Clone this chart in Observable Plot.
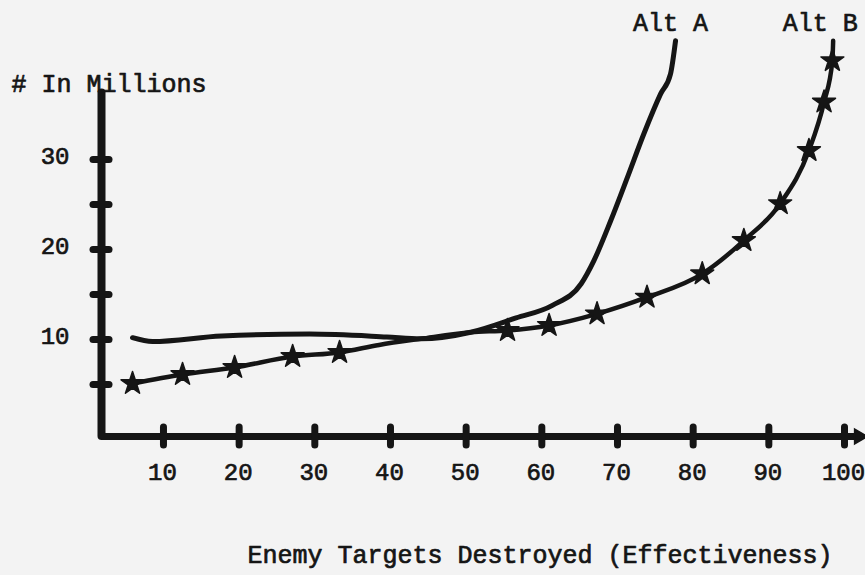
<!DOCTYPE html>
<html>
<head>
<meta charset="utf-8">
<script src="https://cdn.jsdelivr.net/npm/d3@7"></script>
<script src="https://cdn.jsdelivr.net/npm/@observablehq/plot@0.6"></script>
<style>
  html, body { margin: 0; padding: 0; background: #f3f3f3; }
  #chart svg { display: block; }
</style>
</head>
<body>
<div id="chart"></div>
<script>
// ---- data ----
const seriesNames = ["Alt A", "Alt B"];
const xTitle = "Enemy Targets Destroyed (Effectiveness)";
const yTitle = "# In Millions";

const xTicks = [10, 20, 30, 40, 50, 60, 70, 80, 90, 100];
const yTicks = [5, 10, 15, 20, 25, 30];
const yTickLabels = [10, 20, 30];

// Alt A: smooth curve, no markers
const altAX = [5.91, 8.55, 17.67, 29.3, 39.5, 44.0, 50.6, 56.6, 61.4, 65.2, 66.9, 69.1, 71.3, 73.5, 75.7, 77.0, 77.67];
const altAY = [10.2, 9.78, 10.39, 10.6, 10.28, 10.08, 10.81, 12.4, 13.8, 16.2, 18.8, 23.2, 28.0, 32.9, 37.3, 39.5, 43.2];

// Alt B: curve with star markers (1 = star drawn at that point)
const altBX = [5.91, 12.52, 19.4, 27.07, 33.27, 38.5, 44.0, 50.6, 55.47, 60.96, 67.3, 73.9, 81.2, 86.7, 91.5, 95.3, 97.3, 98.4, 98.5];
const altBY = [5.11, 6.11, 6.89, 8.11, 8.56, 9.4, 10.08, 10.81, 11.0, 11.56, 12.85, 14.7, 17.3, 21.0, 25.1, 31.0, 36.4, 41.0, 43.2];
const altBStar = [1, 1, 1, 1, 1, 0, 0, 0, 1, 1, 1, 1, 1, 1, 1, 1, 1, 1, 0];

// ---- build ----
const altA = altAX.map((x, i) => ({x, y: altAY[i]}));
const altB = altBX.map((x, i) => ({x, y: altBY[i], star: altBStar[i]}));

const X0 = 1.81, XMAX = 100, XEND = 101.9;
const Y0 = -0.78, YMAX = 37.9, YTOP = 37.4;
const FONT = "Liberation Mono";
const INK = "#151515";
const txt = {fontSize: 25, fontWeight: "normal", fontFamily: FONT, fill: INK, stroke: INK, strokeWidth: 0.7};

const chart = Plot.plot({
  width: 865,
  height: 575,
  marginLeft: 101,
  marginRight: 21,
  marginTop: 88,
  marginBottom: 139,
  x: {domain: [X0, XMAX], axis: null},
  y: {domain: [Y0, YMAX], axis: null},
  style: {background: "#f3f3f3", fontFamily: FONT, fontSize: "25px", color: INK},
  marks: [
    // axis lines
    Plot.ruleX([X0], {y1: Y0, y2: YTOP, stroke: INK, strokeWidth: 8, strokeLinecap: "round"}),
    Plot.ruleY([Y0], {x1: X0, x2: XEND, stroke: INK, strokeWidth: 7, strokeLinecap: "butt"}),
    Plot.dot([{x: XEND, y: Y0}], {x: "x", y: "y", symbol: "triangle", rotate: 90, r: 5.5, fill: INK, stroke: INK}),
    // tick blobs straddling the axes
    Plot.ruleY(yTicks, {y: d => d, x1: X0, x2: X0, insetLeft: -8, insetRight: -8, stroke: INK, strokeWidth: 7, strokeLinecap: "round"}),
    Plot.ruleX(xTicks, {x: d => d, y1: Y0, y2: Y0, insetTop: -9, insetBottom: -9, stroke: INK, strokeWidth: 7, strokeLinecap: "round"}),
    // tick labels
    Plot.text(xTicks, {x: d => d, y: Y0, text: d => String(d), dy: 36, dx: -1, ...txt, fontSize: 24, letterSpacing: "-1px"}),
    Plot.text(yTickLabels, {x: X0, y: d => d, text: d => String(d), dx: -32, dy: -3, textAnchor: "end", ...txt, fontSize: 24, letterSpacing: "-1px"}),
    // series
    Plot.line(altA, {x: "x", y: "y", curve: "monotone-x", stroke: INK, strokeWidth: 5, strokeLinecap: "round", strokeLinejoin: "round"}),
    Plot.line(altB, {x: "x", y: "y", curve: "monotone-x", stroke: INK, strokeWidth: 4.5, strokeLinecap: "round", strokeLinejoin: "round"}),
    Plot.dot(altB.filter(d => d.star), {x: "x", y: "y", symbol: "star", r: 7.2, fill: INK, stroke: INK, strokeWidth: 1.5, strokeLinejoin: "round"}),
    // series labels
    Plot.text([altA[altA.length - 1]], {x: "x", y: "y", text: () => seriesNames[0], dx: -5, dy: -18, ...txt}),
    Plot.text([altB[altB.length - 1]], {x: "x", y: "y", text: () => seriesNames[1], dx: -13, dy: -18, ...txt}),
    // titles
    Plot.text([yTitle], {frameAnchor: "top-left", textAnchor: "start", dx: -90, dy: -14, ...txt}),
    Plot.text([xTitle], {frameAnchor: "bottom", dx: 67, dy: 126, ...txt})
  ]
});

document.getElementById("chart").append(chart);
</script>
</body>
</html>
